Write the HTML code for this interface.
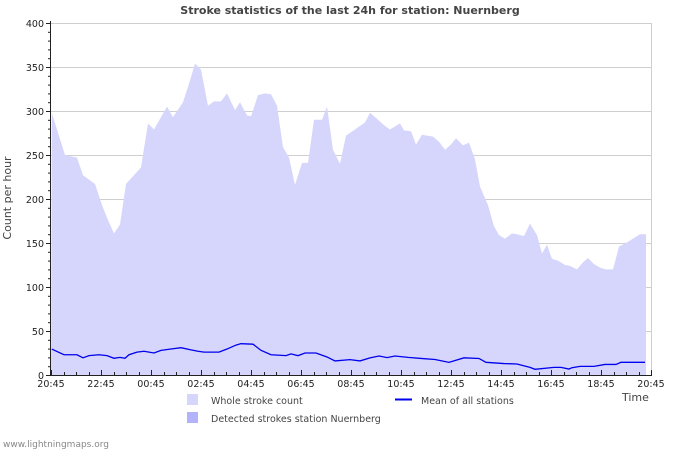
<!DOCTYPE html>
<html><head><meta charset="utf-8"><style>
body{margin:0;background:#fff;font-family:"DejaVu Sans","Liberation Sans",sans-serif;}
svg text{font-family:"DejaVu Sans","Liberation Sans",sans-serif;}
</style></head><body>
<svg id="c" width="700" height="450" xmlns="http://www.w3.org/2000/svg">
<text x="350" y="14" text-anchor="middle" font-size="11" font-weight="bold" fill="#444">Stroke statistics of the last 24h for station: Nuernberg</text>
<g id="grid"></g>
<g id="areas"></g>
<g id="axes"></g>
<text transform="translate(11,198) rotate(-90)" text-anchor="middle" font-size="11" fill="#444">Count per hour</text>
<text x="622" y="401" font-size="11" fill="#444">Time</text>
<g>
<rect x="187" y="394" width="11" height="11" fill="#d6d6fc"/>
<text x="211" y="404" font-size="9.5" fill="#444">Whole stroke count</text>
<rect x="187" y="412" width="11" height="11" fill="#b3b3fb"/>
<text x="211" y="422" font-size="9.5" fill="#444">Detected strokes station Nuernberg</text>
<line x1="395" y1="399.5" x2="412" y2="399.5" stroke="#0000ee" stroke-width="2"/>
<text x="421" y="404" font-size="9.5" fill="#444">Mean of all stations</text>
</g>
<text x="3" y="447" font-size="9" fill="#888">www.lightningmaps.org</text>
</svg>
<script>
const xTickLabels=["20:45","22:45","00:45","02:45","04:45","06:45","08:45","10:45","12:45","14:45","16:45","18:45","20:45"];
const yTicks=[0,50,100,150,200,250,300,350,400];
const wholeHours=[0.03,0.56,1.04,1.28,1.76,2.04,2.28,2.52,2.76,3.0,3.6,3.88,4.12,4.64,4.88,5.28,5.52,5.76,6.0,6.28,6.52,6.8,7.04,7.36,7.56,7.84,8.0,8.28,8.56,8.8,9.04,9.28,9.52,9.76,10.04,10.28,10.52,10.84,11.04,11.28,11.56,11.8,12.16,12.56,12.76,13.04,13.36,13.56,13.96,14.12,14.4,14.6,14.84,15.04,15.28,15.52,15.76,16.0,16.2,16.48,16.72,16.96,17.16,17.48,17.72,17.92,18.16,18.44,18.64,18.92,19.16,19.44,19.64,19.84,20.04,20.28,20.56,20.76,21.04,21.28,21.48,21.72,21.96,22.2,22.48,22.72,23.0,23.28,23.56,23.8];
const wholeValues=[298,250,247,227,217,193,176,161,171,217,236,286,279,305,293,310,331,354,347,306,311,311,320,301,310,295,294,318,320,319,306,259,247,216,241,241,290,290,305,256,240,272,279,287,298,291,283,279,286,278,277,262,273,272,271,265,256,262,269,261,264,245,214,193,169,159,155,161,160,158,172,159,138,148,132,130,125,124,120,128,133,126,122,120,120,146,150,155,160,160];
const meanHours=[0.03,0.52,1.04,1.28,1.52,1.92,2.24,2.52,2.76,2.96,3.12,3.44,3.72,4.12,4.4,4.8,5.2,5.6,5.88,6.12,6.72,7.04,7.4,7.6,8.08,8.4,8.8,9.4,9.6,9.88,10.16,10.6,11.04,11.36,11.96,12.36,12.76,13.12,13.44,13.76,14.28,14.8,15.36,15.92,16.52,17.12,17.4,18.12,18.64,19.16,19.36,20.12,20.4,20.72,20.84,21.16];
const meanValues=[29.5,23,23,19.5,22,23,22,19,20,19,23,26,27,25,28,29.5,31,28.5,27,26,26,29.5,34,35.6,35,28,23,22,24,22,25,25,20.5,16,17.5,16,19.5,21.6,19.8,21.6,20,18.8,17.6,14.4,19.5,18.8,14.4,13,12.5,8.7,6.5,8.7,8.7,6.8,8.3,9.8].concat([]);
const meanHours2=[21.72,22.16,22.6,22.8,23.2,23.76];
const meanValues2=[9.8,12,12,14.4,14.4,14.4];
const X0=51,X1=651,Y0=375,YMAX=400,YTOP=23;
const xs=h=>X0+h*(X1-X0)/24;
const ys=v=>Y0-v*(Y0-YTOP)/YMAX;
const NS="http://www.w3.org/2000/svg";
function mk(tag,attrs,parent){const e=document.createElementNS(NS,tag);for(const k in attrs)e.setAttribute(k,attrs[k]);parent.appendChild(e);return e;}
const grid=document.getElementById('grid'),areas=document.getElementById('areas'),axes=document.getElementById('axes');
yTicks.forEach(v=>{if(v>0){const l=mk('line',{x1:X0,x2:X1,y1:ys(v)+0.5,y2:ys(v)+0.5,stroke:'#cfcfcf','stroke-width':1},grid);

}
const t=mk('text',{x:44,y:ys(v)+4,'text-anchor':'end','font-size':9.5,fill:'#222'},axes);t.textContent=v;

});
for(let v=0;v<=YMAX;v+=10){mk('line',{x1:v%50?48:46,x2:X0,y1:ys(v)+0.5,y2:ys(v)+0.5,stroke:'#222'},axes);}
let pts=wholeHours.map((h,i)=>xs(h)+','+ys(wholeValues[i]));
const last=wholeHours[wholeHours.length-1];
const area=mk('polygon',{points:xs(0)+','+Y0+' '+pts.join(' ')+' '+xs(last)+','+Y0,fill:'#d6d6fc'},areas);


const mh=meanHours.concat(meanHours2),mv=meanValues.concat(meanValues2);
const line=mk('polyline',{points:mh.map((h,i)=>xs(h)+','+ys(mv[i])).join(' '),fill:'none',stroke:'#0000ee','stroke-width':1.3},areas);


mk('line',{x1:X1+0.5,x2:X1+0.5,y1:YTOP,y2:Y0,stroke:'#cfcfcf'},grid);
mk('line',{x1:X0-0.5,x2:X0-0.5,y1:YTOP-2,y2:Y0,stroke:'#222'},axes);
mk('line',{x1:X0,x2:X1+1,y1:Y0+0.5,y2:Y0+0.5,stroke:'#222'},axes);
for(let h=0;h<=24;h+=0.5){const major=(h%2===0);mk('line',{x1:Math.round(xs(h))+0.5,x2:Math.round(xs(h))+0.5,y1:major?Y0-5:Y0-3,y2:Y0,stroke:'#222'},axes);}
xTickLabels.forEach((s,i)=>{const t=mk('text',{x:xs(i*2),y:387,'text-anchor':'middle','font-size':9.5,fill:'#222'},axes);t.textContent=s;

});
</script>
</body></html>
